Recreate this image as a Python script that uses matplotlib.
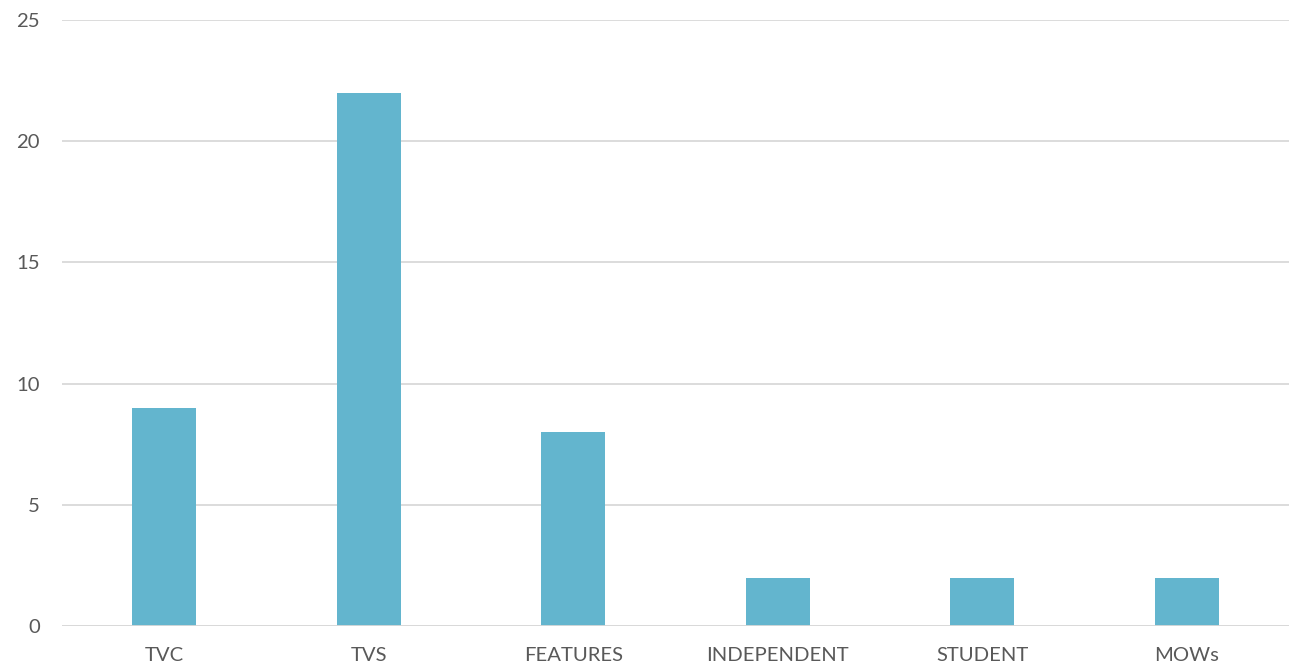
import matplotlib
matplotlib.use("Agg")
import matplotlib.pyplot as plt

categories = ["TVC", "TVS", "FEATURES", "INDEPENDENT", "STUDENT", "MOWs"]
counts = [9, 22, 8, 2, 2, 2]
yticks = [0, 5, 10, 15, 20, 25]

plt.rcParams['font.family'] = ['Lato', 'DejaVu Sans']

fig = plt.figure(figsize=(13.01, 6.67), dpi=100)
ax = fig.add_axes([62 / 1301, 41 / 667, 1227 / 1301, 606 / 667])

ax.bar(range(len(categories)), counts, width=0.315, color="#63B5CE", zorder=3)

ax.set_xlim(-0.5, len(categories) - 0.5)
ax.set_ylim(0, 25)
ax.set_yticks(yticks)
ax.set_xticks(range(len(categories)))
ax.set_xticklabels(categories)
ax.grid(axis="y", color="#D9D9D9", linewidth=1.3, zorder=0)
for side in ["top", "right", "left", "bottom"]:
    ax.spines[side].set_visible(False)
ax.axhline(0, color="#D9D9D9", linewidth=1.3, zorder=4)
ax.tick_params(length=0, labelsize=14.6, colors="#595959")
ax.tick_params(axis="y", pad=16)
ax.tick_params(axis="x", pad=15)

fig.savefig("out.png", dpi=100)
